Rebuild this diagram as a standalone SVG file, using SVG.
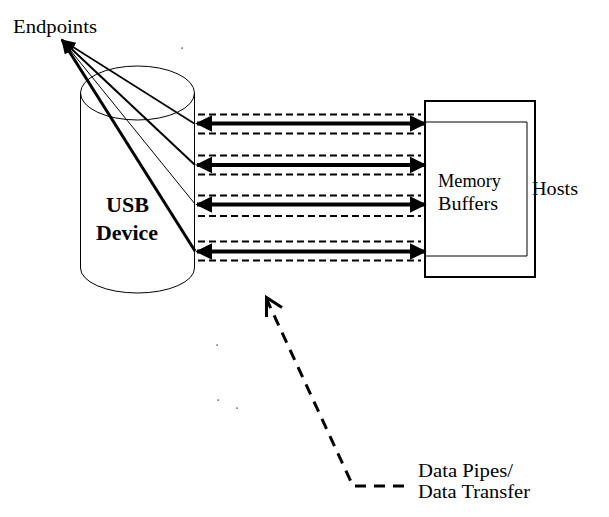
<svg xmlns="http://www.w3.org/2000/svg" width="609" height="517" viewBox="0 0 609 517">
<style>
text{font-family:"Liberation Serif","Times New Roman",serif;font-size:19px;fill:#000}
.bold{font-weight:bold;font-size:22px}
.thin{fill:none;stroke:#000;stroke-width:1}
.dash{fill:none;stroke:#000;stroke-width:2;stroke-dasharray:7 4}
.pipe{fill:none;stroke:#000;stroke-width:4}
.ep{fill:none;stroke:#000}
</style>
<defs>
<marker id="ah" viewBox="0 0 10 10" refX="9" refY="5" markerWidth="17" markerHeight="17" markerUnits="userSpaceOnUse" orient="auto-start-reverse">
<path d="M0,0 L10,5 L0,10 z" fill="#000"/>
</marker>
<marker id="ep" viewBox="0 0 10 10" refX="9" refY="5" markerWidth="15" markerHeight="15" markerUnits="userSpaceOnUse" orient="auto-start-reverse">
<path d="M0,1.5 L10,5 L0,8.5 z" fill="#000"/>
</marker>
</defs>
<g id="usb-device">
<path class="thin" d="M80.5,93 L80.5,268 A57,25 0 0 0 194.5,268 L194.5,93"/>
<ellipse class="thin" cx="137.5" cy="93" rx="57" ry="27"/>
<text class="bold" x="106" y="212" textLength="43" lengthAdjust="spacingAndGlyphs">USB</text>
<text class="bold" x="96" y="240" textLength="62" lengthAdjust="spacingAndGlyphs">Device</text>
</g>
<g id="hosts">
<rect x="425" y="101" width="110" height="176" fill="none" stroke="#000" stroke-width="2"/>
<text x="532" y="195" textLength="46" lengthAdjust="spacingAndGlyphs">Hosts</text>
</g>
<g id="memory-buffers">
<path class="thin" d="M426,122 L527,122 L527,256 L426,256"/>
<text x="438" y="187" textLength="63" lengthAdjust="spacingAndGlyphs">Memory</text>
<text x="438" y="210" textLength="60" lengthAdjust="spacingAndGlyphs">Buffers</text>
</g>
<g id="endpoints-label">
<text x="13" y="33" textLength="84" lengthAdjust="spacingAndGlyphs">Endpoints</text>
</g>
<g id="data-pipes-label">
<text x="418" y="477" textLength="95" lengthAdjust="spacingAndGlyphs">Data Pipes/</text>
<text x="418" y="498" textLength="112" lengthAdjust="spacingAndGlyphs">Data Transfer</text>
</g>
<g id="connectors">
<line class="ep" stroke-width="1.6" x1="62" y1="40" x2="195" y2="124" marker-start="url(#ep)"/>
<line class="ep" stroke-width="2" x1="62" y1="40" x2="195" y2="165" marker-start="url(#ep)"/>
<line class="ep" stroke-width="1" x1="62" y1="40" x2="195" y2="204" marker-start="url(#ep)"/>
<line class="ep" stroke-width="3" x1="62" y1="40" x2="195" y2="251" marker-start="url(#ep)"/>
<line class="dash" x1="198" y1="114.5" x2="421" y2="114.5"/>
<line class="pipe" x1="197" y1="123.5" x2="425" y2="123.5" marker-start="url(#ah)" marker-end="url(#ah)"/>
<line class="dash" x1="198" y1="133.5" x2="421" y2="133.5"/>
<line class="dash" x1="198" y1="155.5" x2="421" y2="155.5"/>
<line class="pipe" x1="197" y1="165" x2="425" y2="165" marker-start="url(#ah)" marker-end="url(#ah)"/>
<line class="dash" x1="198" y1="174.5" x2="421" y2="174.5"/>
<line class="dash" x1="198" y1="195.5" x2="421" y2="195.5"/>
<line class="pipe" x1="197" y1="204.5" x2="425" y2="204.5" marker-start="url(#ah)" marker-end="url(#ah)"/>
<line class="dash" x1="198" y1="216" x2="421" y2="216"/>
<line class="dash" x1="198" y1="241.5" x2="421" y2="241.5"/>
<line class="pipe" x1="197" y1="251.5" x2="425" y2="251.5" marker-start="url(#ah)" marker-end="url(#ah)"/>
<line class="dash" x1="198" y1="260.5" x2="421" y2="260.5"/>
<path d="M404,486 L353,486 L267,300" fill="none" stroke="#000" stroke-width="3" stroke-dasharray="11 8"/>
<path d="M266.5,317 L266.5,297.5 L282,307.5" fill="none" stroke="#000" stroke-width="3"/>
</g>
<g id="specks" fill="#000">
<rect x="181.5" y="47.5" width="1.2" height="1.2"/>
<rect x="216.5" y="344.5" width="1.2" height="1.2"/>
<rect x="217.5" y="399.5" width="1.2" height="1.2"/>
<rect x="236.5" y="407.5" width="1.2" height="1.2"/>
</g>
</svg>
